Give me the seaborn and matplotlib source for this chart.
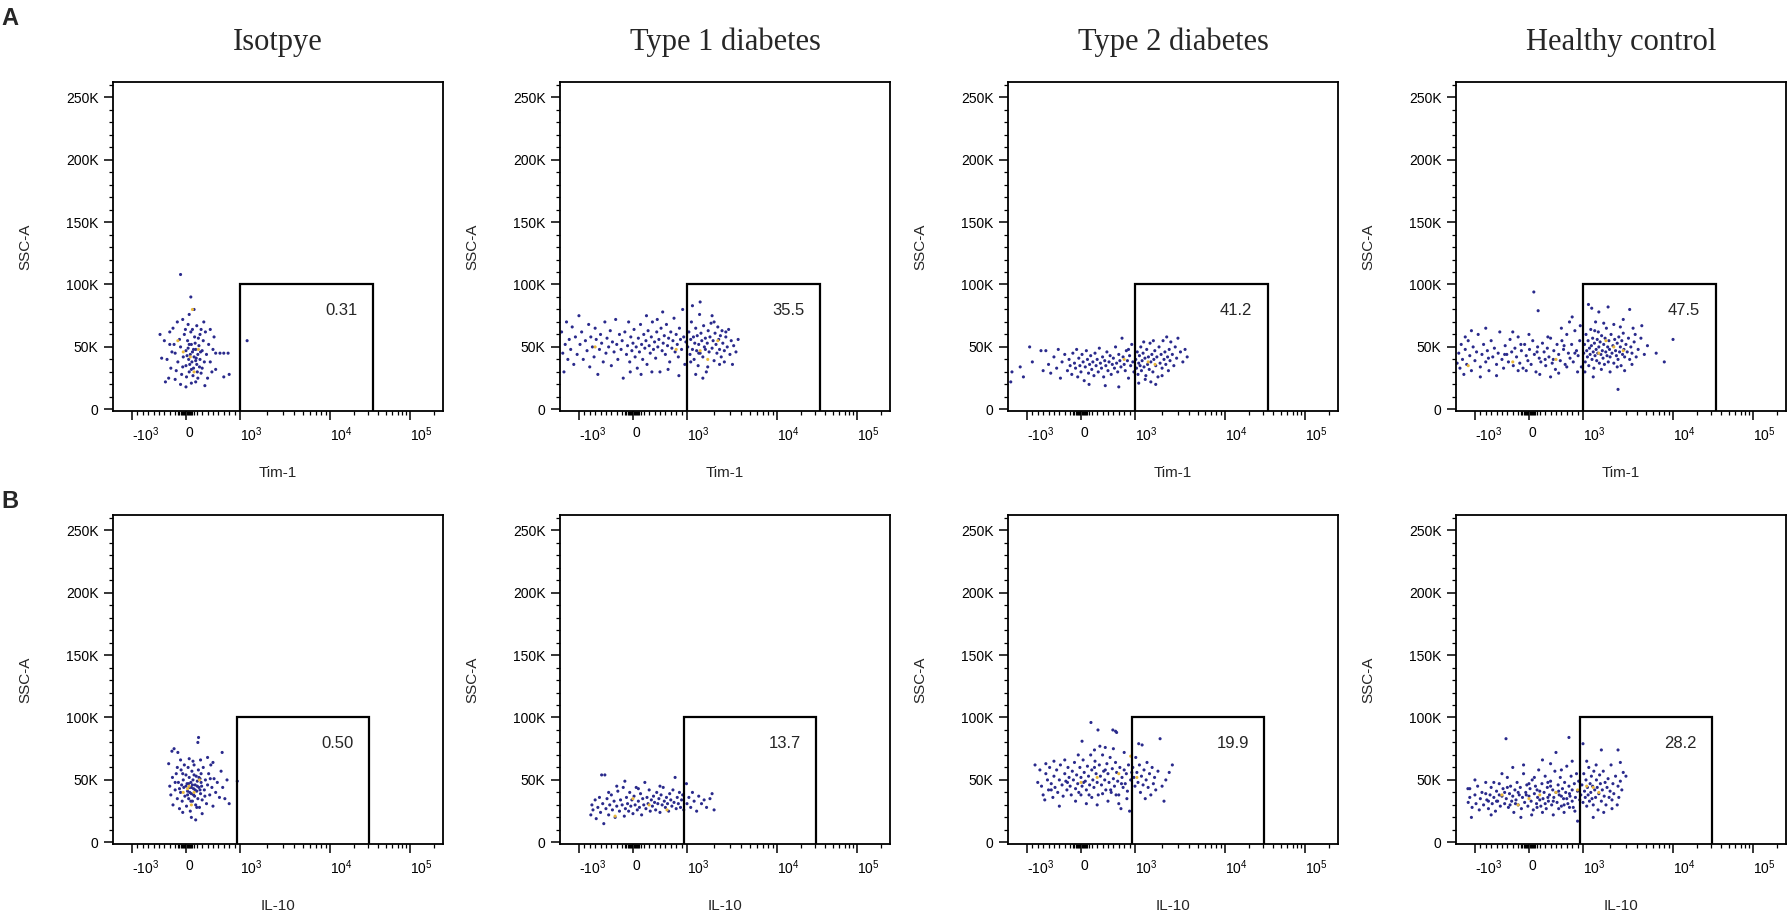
import numpy as np
import pandas as pd
import matplotlib
matplotlib.use('Agg')
import matplotlib.pyplot as plt
import seaborn as sns
from matplotlib.ticker import FixedLocator, NullFormatter

sns.set_theme(style='white')
plt.rcParams['font.family'] = ['Liberation Sans', 'DejaVu Sans']
plt.rcParams['mathtext.fontset'] = 'custom'
plt.rcParams['mathtext.rm'] = 'Liberation Sans'
plt.rcParams['mathtext.it'] = 'Liberation Sans:italic'
plt.rcParams['mathtext.bf'] = 'Liberation Sans:bold'

# ---- data (x = fluorescence, y = SSC-A in K) ----
titles = ['Isotpye', 'Type 1 diabetes', 'Type 2 diabetes', 'Healthy control']
row_markers = ['Tim-1', 'IL-10']
gate_pct_tim1 = ['0.31', '35.5', '41.2', '47.5']
gate_pct_il10 = ['0.50', '13.7', '19.9', '28.2']
gate_tim1 = (1000, 34000, 100)   # x from, x to, SSC top (K)
gate_il10 = (950, 31000, 100)

iso_tim1 = [(-200,45),(-150,38),(-100,50),(-50,42),(0,35),(0,47),(30,55),(50,40),(60,30),(80,44),(100,52),(110,38),
    (120,46),(140,33),(150,42),(160,58),(180,48),(200,36),(220,44),(240,51),(260,40),(280,29),(300,47),(320,55),
    (340,38),(-180,31),(-120,56),(-80,28),(-30,60),(10,26),(40,49),(70,36),(90,62),(130,27),(170,53),(190,41),
    (210,30),(230,57),(250,34),(270,46),(-220,52),(-60,34),(20,43),(60,52),(100,32),(140,48),(180,39),(220,25),
    (260,60),(300,33),(-350,40),(-300,52),(-280,33),(-260,46),(-320,25),(-400,55),(-450,41),(-480,60),(-380,22),
    (380,44),(420,52),(450,38),(480,30),(500,48),(520,58),(400,25),(360,62),(550,45),(630,45),(700,45),(780,45),
    (700,26),(-240,65),(-160,70),(-60,72),(40,68),(120,64),(200,67),(280,64),(-100,20),(0,18),(100,21),(180,22),
    (-200,24),(330,70),(60,76),(150,80),(90,90),(-100,108),(-10,64),(350,19),(-300,62),(450,64),(550,32),(800,28),
    (1200,55)]
iso_tim1_hot = [(120,80),(-50,46),(80,42),(230,48),(-150,55),(150,30)]

t1d_tim1 = [(-1600,62),(-1550,45),(-1500,30),(-1450,52),(-1400,70),(-1350,40),(-1300,56),(-1250,48),(-1200,66),
    (-1150,36),(-1100,58),(-1050,44),(-1000,75),(-980,52),(-950,62),(-920,40),(-880,55),(-850,47),(-820,68),(-800,34),
    (-780,58),(-750,50),(-720,42),(-700,65),(-680,56),(-650,28),(-620,48),(-600,60),(-580,53),(-550,38),(-520,70),
    (-500,45),(-480,57),(-450,50),(-420,63),(-400,35),(-380,54),(-350,46),(-320,72),(-300,52),(-280,40),(-250,60),
    (-220,48),(-200,55),(-180,25),(-150,62),(-120,44),(-100,51),(-80,70),(-60,38),(-40,58),(-20,47),(0,53),(20,64),
    (40,42),(60,50),(80,33),(100,57),(120,46),(140,68),(160,52),(180,40),(200,60),(220,49),(240,55),(260,36),(280,63),
    (300,51),(320,45),(340,58),(360,70),(380,48),(400,54),(420,41),(440,62),(460,50),(480,56),(500,30),(520,65),
    (540,47),(560,53),(580,59),(600,44),(620,68),(640,51),(660,57),(680,38),(700,62),(720,49),(740,55),(760,73),
    (780,46),(800,60),(820,52),(840,42),(860,65),(880,56),(900,48),(920,80),(940,58),(960,36),(980,54),(350,30),
    (150,28),(-50,30),(450,72),(650,32),(850,27),(250,75),(550,78),
    (1020,50),(1050,62),(1080,44),(1100,56),(1120,70),(1150,48),(1180,58),(1200,40),(1220,53),(1250,65),(1280,47),
    (1300,59),(1330,35),(1350,52),(1380,76),(1400,45),(1430,61),(1460,55),(1500,42),(1530,67),(1560,50),(1600,57),
    (1640,30),(1680,53),(1720,63),(1760,46),(1800,58),(1850,69),(1900,49),(1950,55),(2000,39),(2050,61),(2100,52),
    (2150,45),(2200,66),(2250,56),(2300,48),(2350,59),(2400,42),(2450,63),(2500,53),(2600,47),(2700,58),(2800,50),
    (2900,64),(3000,44),(3100,55),(3300,51),(3500,46),(3700,56),(1250,28),(1500,25),(1700,34),(2000,70),(2600,38),
    (1150,83),(1400,86),(3200,36),(1900,75),(2300,36),(1100,38),(1350,45),(1600,48),(2700,62)]
t1d_tim1_hot = [(1400,47),(800,48),(-700,50),(1700,40),(2200,55)]

t2d_tim1 = [(-1550,22),(-1500,30),(-1200,34),(-1100,26),(-950,50),(-900,38),(-740,47),(-700,31),(-650,47),(-600,36),
    (-560,29),(-500,42),(-450,33),(-420,48),(-380,25),(-350,38),(-300,44),(-250,31),(-220,40),(-200,35),(-170,28),
    (-150,45),(-120,37),(-100,33),(-80,48),(-60,26),(-40,41),(-20,35),(0,30),(20,44),(40,38),(60,23),(80,34),(100,47),
    (120,40),(140,29),(160,36),(180,43),(200,32),(220,38),(240,27),(260,45),(280,35),(300,40),(320,30),(340,49),
    (360,37),(380,33),(400,42),(420,26),(440,39),(460,35),(480,46),(500,31),(520,38),(540,43),(560,28),(580,36),
    (600,41),(620,33),(640,50),(660,37),(680,30),(700,44),(720,39),(740,34),(760,57),(780,42),(800,36),(820,31),
    (840,47),(860,39),(880,25),(900,43),(920,35),(940,52),(960,38),(980,30),(150,20),(450,19),(700,18),(880,48),
    (1020,40),(1040,33),(1060,46),(1080,28),(1100,37),(1120,43),(1140,35),(1160,50),(1180,31),(1200,39),(1230,45),
    (1260,34),(1290,41),(1320,27),(1350,48),(1380,36),(1410,42),(1440,32),(1470,53),(1500,38),(1540,44),(1580,30),
    (1620,40),(1660,47),(1700,35),(1750,42),(1800,26),(1850,50),(1900,37),(1950,44),(2000,33),(2050,55),(2100,40),
    (2150,46),(2200,36),(2250,58),(2300,42),(2350,31),(2400,48),(2450,39),(2500,54),(2600,44),(2700,35),(2800,50),
    (2900,41),(3000,57),(3200,46),(3400,38),(3600,48),(3800,42),(1100,21),(1300,24),(1500,22),(1700,20),(2000,27),
    (1250,54),(1600,55)]
t2d_tim1_hot = [(1400,38),(1670,36),(800,40)]

hc_tim1 = [(-1620,37),(-1550,45),(-1500,33),(-1450,52),(-1400,40),(-1350,28),(-1300,48),(-1250,36),(-1200,55),
    (-1150,43),(-1100,31),(-1050,50),(-1000,39),(-970,46),(-940,60),(-900,34),(-870,44),(-840,52),(-800,38),(-770,47),
    (-740,31),(-700,55),(-670,42),(-640,49),(-600,36),(-570,45),(-540,62),(-500,40),(-470,33),(-440,51),(-410,44),
    (-380,38),(-350,56),(-320,46),(-290,35),(-260,49),(-230,42),(-200,58),(-170,37),(-140,47),(-110,33),(-80,52),
    (-50,43),(-20,39),(10,48),(40,36),(70,55),(100,44),(130,30),(160,50),(190,41),(220,38),(250,53),(280,46),(310,35),
    (340,49),(370,42),(400,57),(430,37),(460,47),(490,32),(520,52),(550,44),(580,39),(610,55),(640,48),(670,36),
    (700,60),(730,45),(760,41),(790,52),(820,38),(850,63),(880,47),(910,43),(940,55),(970,34),(-1300,58),(-900,26),
    (-600,27),(-300,62),(0,60),(200,28),(400,26),(600,65),(750,70),(900,30),(-1100,63),(-750,41),(-450,44),(-150,52),
    (150,46),(450,40),(650,51),(850,45),(90,94),(170,79),(-50,31),(350,58),(550,29),(800,74),(950,67),(-800,65),
    (-200,31),(300,40),(700,34),
    (1020,45),(1040,52),(1060,38),(1080,60),(1100,47),(1120,42),(1140,55),(1160,35),(1180,49),(1200,44),(1220,64),
    (1240,51),(1260,40),(1280,57),(1300,46),(1320,33),(1340,53),(1360,43),(1380,70),(1400,48),(1420,39),(1440,56),
    (1460,45),(1480,62),(1500,50),(1520,37),(1550,54),(1580,44),(1610,59),(1640,47),(1670,41),(1700,52),(1730,36),
    (1760,57),(1790,46),(1820,65),(1850,43),(1880,50),(1910,38),(1940,55),(1970,48),(2000,42),(2050,60),(2100,45),
    (2150,51),(2200,37),(2250,56),(2300,47),(2350,43),(2400,53),(2450,40),(2500,58),(2550,46),(2600,50),(2650,35),
    (2700,55),(2750,44),(2800,61),(2850,48),(2900,42),(3000,52),(3100,46),(3200,57),(3300,40),(3400,50),(3500,45),
    (3700,54),(3900,42),(4100,48),(4400,57),(4800,44),(5200,51),(6500,45),(8000,38),(10000,56),(2450,16),
    (1150,84),(1250,81),(1500,78),(1900,82),(2200,68),(2800,72),(3300,80),(3600,65),(1050,30),(1300,26),(1600,32),
    (2000,30),(2400,34),(2900,31),(3500,36),(1700,69),(2600,66),(1350,63),(3800,60),(4500,67)]
hc_tim1_hot = [(1500,45),(2200,50),(2800,47),(-1200,35),(-300,38),(1800,55),(500,40)]

iso_il10 = [(-320,63),(-260,73),(-220,75),(-150,72),(-100,66),(-300,45),(-280,38),(-250,52),(-240,30),(-200,42),
    (-180,55),(-160,35),(-140,48),(-120,27),(-100,40),(-90,58),(-70,33),(-50,50),(-40,44),(-20,37),(0,54),(10,29),
    (20,47),(30,41),(40,60),(50,35),(60,52),(70,44),(80,25),(90,48),(100,39),(110,57),(120,33),(130,50),(140,43),
    (150,62),(160,37),(170,46),(180,30),(190,53),(200,41),(210,49),(220,35),(230,58),(240,44),(250,28),(260,51),
    (270,39),(280,55),(290,45),(300,34),(320,60),(340,42),(360,50),(380,31),(400,46),(420,55),(440,38),(460,62),
    (480,44),(500,29),(520,51),(550,40),(580,48),(620,36),(650,57),(680,44),(720,35),(760,50),(800,31),(670,72),
    (950,49),(233,84),(220,80),(60,67),(-60,24),(100,20),(180,18),(300,23),(-160,60),(400,68),(-30,62),(130,65),
    (270,66),(500,64),(-200,48),(-120,43),(-60,55),(30,38),(90,33),(150,54),(200,28),(260,42),(350,37),(450,51),
    (0,45),(70,40),(140,38),(210,45),(280,48),(-80,46),(120,46),(170,42),(240,52),(50,47),(100,44)]
iso_il10_hot = [(60,45),(150,40),(-50,40),(250,50),(100,30),(30,43)]

t1d_il10 = [(-780,22),(-760,30),(-740,26),(-700,34),(-680,19),(-650,28),(-620,36),(-600,24),(-580,54),(-560,31),
    (-540,15),(-520,54),(-500,27),(-480,35),(-450,22),(-430,30),(-400,38),(-380,26),(-350,33),(-330,20),(-300,29),
    (-280,41),(-250,25),(-230,34),(-200,30),(-180,44),(-160,21),(-150,49),(-140,27),(-120,36),(-100,31),(-80,25),
    (-60,40),(-40,29),(-20,34),(0,23),(20,37),(40,30),(60,44),(80,26),(100,33),(120,28),(140,39),(160,22),(180,35),
    (200,30),(220,48),(240,27),(260,36),(280,31),(300,42),(320,25),(340,34),(360,29),(380,37),(400,32),(420,26),
    (440,40),(460,31),(480,35),(500,24),(520,38),(540,30),(560,44),(580,33),(600,28),(620,36),(640,31),(660,25),
    (680,39),(700,34),(720,29),(740,42),(760,32),(780,52),(800,27),(820,36),(840,31),(860,40),(880,28),(900,34),
    (920,38),(940,26),(-300,45),(-450,40),(100,43),(500,45),
    (990,47),(1000,31),(1050,36),(1100,28),(1150,40),(1200,33),(1280,25),(1350,37),(1450,31),(1550,34),(1650,28),
    (1800,35),(1900,39),(2000,26)]
t1d_il10_hot = [(-330,21),(630,26),(0,35),(300,30)]

t2d_il10 = [(-850,62),(-800,48),(-760,58),(-730,45),(-700,38),(-670,34),(-650,55),(-620,50),(-600,42),(-580,60),
    (-550,47),(-520,36),(-500,53),(-480,44),(-450,58),(-430,40),(-400,50),(-380,62),(-350,46),(-330,37),(-300,55),
    (-280,49),(-260,42),(-240,60),(-220,52),(-200,45),(-180,38),(-160,57),(-140,50),(-120,64),(-100,43),(-80,54),
    (-60,47),(-40,40),(-20,60),(0,52),(20,81),(20,45),(40,66),(60,56),(80,49),(100,42),(120,61),(140,53),(160,46),
    (185,96),(180,70),(200,58),(220,50),(240,44),(260,65),(280,55),(300,48),(315,90),(320,38),(340,62),(360,53),
    (380,46),(400,70),(420,57),(440,50),(460,42),(480,63),(500,55),(520,48),(540,68),(560,40),(590,90),(580,59),
    (600,51),(620,45),(640,64),(660,56),(680,49),(700,38),(720,60),(740,27),(760,52),(780,44),(800,58),(820,47),
    (840,55),(860,41),(880,62),(900,25),(920,50),(940,56),(640,89),(660,88),(450,76),(250,74),(600,75),(800,72),
    (-300,66),(-500,65),(-650,63),(100,31),(300,30),(500,33),(700,31),(850,35),(-400,29),(-100,33),(200,36),(400,39),
    (650,38),(-50,70),(350,77),(0,38),(150,38),(550,42),(750,47),(450,58),(250,60),(-250,48),(-550,42),(50,48),
    (960,60),(980,52),(1000,45),(1020,68),(1050,56),(1080,48),(1100,79),(1120,62),(1150,40),(1180,53),(1200,78),
    (1230,46),(1260,58),(1300,35),(1330,50),(1360,64),(1400,44),(1450,55),(1500,38),(1550,60),(1600,47),(1650,52),
    (1700,42),(1800,57),(1900,83),(2000,45),(2100,33),(2200,50),(2400,56),(2600,62)]
t2d_il10_hot = [(700,55),(300,52),(0,48),(1050,52),(920,69)]

hc_il10 = [(-1210,43),(-1150,43),(-1100,20),(-1200,32),(-1150,36),(-1080,28),(-1000,38),(-980,31),(-950,45),
    (-920,26),(-900,35),(-870,40),(-840,30),(-800,48),(-780,34),(-750,27),(-720,38),(-700,44),(-680,31),(-650,36),
    (-620,25),(-600,41),(-580,33),(-550,47),(-530,29),(-500,37),(-480,43),(-450,31),(-425,83),(-420,35),(-400,52),
    (-380,28),(-360,39),(-340,45),(-320,33),(-300,37),(-280,24),(-260,42),(-240,34),(-220,48),(-200,30),(-180,38),
    (-160,44),(-140,27),(-120,36),(-100,55),(-80,32),(-60,40),(-40,46),(-20,29),(0,37),(20,43),(40,33),(60,50),
    (80,26),(100,39),(120,45),(140,31),(160,36),(180,58),(200,41),(220,29),(240,47),(260,35),(280,40),(300,53),
    (320,27),(340,44),(360,33),(380,38),(400,49),(420,30),(440,42),(460,36),(480,57),(500,72),(500,40),(520,32),
    (540,46),(560,38),(580,52),(600,29),(620,43),(640,35),(660,48),(680,40),(700,61),(720,31),(740,84),(740,45),
    (760,37),(780,53),(800,42),(820,28),(840,47),(860,36),(880,55),(900,17),(900,41),(920,49),(940,34),
    (-1000,50),(-700,22),(-500,55),(-300,60),(-150,20),(50,22),(250,24),(450,22),(650,24),(850,25),(-800,39),
    (-600,33),(-400,44),(-200,40),(0,47),(200,34),(400,45),(600,37),(800,33),(-50,38),(150,42),(350,36),(550,41),
    (750,39),(-250,31),(-550,38),(300,31),(700,35),(100,52),(400,63),(600,58),(-100,62),(250,66),(800,65),(-650,48),
    (650,30),(350,48),(150,28),(-350,30),(-450,40),(450,33),(550,27),(750,28),(-750,33),
    (960,38),(980,46),(1000,79),(1000,32),(1020,55),(1040,41),(1060,36),(1080,50),(1100,29),(1120,44),(1140,38),
    (1160,60),(1180,33),(1200,47),(1220,40),(1240,53),(1260,35),(1280,45),(1300,30),(1320,57),(1350,42),(1380,36),
    (1410,50),(1440,44),(1470,26),(1500,39),(1530,54),(1560,47),(1600,74),(1600,33),(1640,42),(1680,57),(1720,37),
    (1760,48),(1800,30),(1850,44),(1900,51),(1950,36),(2000,41),(2050,62),(2100,34),(2150,47),(2200,39),(2300,53),
    (2450,74),(2450,45),(2500,36),(2600,49),(2700,42),(2800,56),(3000,53),(2400,30),(1300,20),(1700,24),(2100,27),
    (1100,65),(1400,62),(2600,64)]
hc_il10_hot = [(0,35),(500,40),(900,42),(1100,45),(1500,40),(-500,38),(200,38),(1300,44),(-200,30)]

row_points = [[iso_tim1, t1d_tim1, t2d_tim1, hc_tim1], [iso_il10, t1d_il10, t2d_il10, hc_il10]]
row_hot = [[iso_tim1_hot, t1d_tim1_hot, t2d_tim1_hot, hc_tim1_hot],
           [iso_il10_hot, t1d_il10_hot, t2d_il10_hot, hc_il10_hot]]
row_pct = [gate_pct_tim1, gate_pct_il10]
row_gate = [gate_tim1, gate_il10]


# ---- biexponential-like x scale (FlowJo style) ----
U_ANCH = [-1.25, -1, 0, 1, 2, 3, 3.45]
P_ANCH = [-2.25, 19, 73, 127, 217, 297, 333]

def to_u(x):
    x = np.asarray(x, float)
    a = np.abs(x)
    return np.where(a <= 1000, x / 1000, np.sign(x) * (1 + np.log10(np.maximum(a, 1000) / 1000)))

def from_u(u):
    u = np.asarray(u, float)
    a = np.abs(u)
    return np.where(a <= 1, u * 1000, np.sign(u) * 1000 * 10 ** (np.maximum(a, 1) - 1))

def fwd(x):
    return np.interp(to_u(x), U_ANCH, P_ANCH)

def inv(p):
    return from_u(np.interp(p, P_ANCH, U_ANCH))


major_x = [-1000, 0, 1000, 10000, 100000]
major_x_labels = ['-$10^{3}$', '0', '$10^{3}$', '$10^{4}$', '$10^{5}$']
minor_x = (list(range(-900, -100, 100)) + [v for v in range(-140, 141, 20) if v != 0] + list(range(200, 1000, 100))
           + list(range(2000, 10000, 1000)) + list(range(20000, 100000, 10000)) + [200000])
major_y = [0, 50000, 100000, 150000, 200000, 250000]
major_y_labels = ['0', '50K', '100K', '150K', '200K', '250K']
minor_y = [v for v in range(0, 262144, 10000) if v % 50000 != 0]

navy = '#2a2a8c'
hot = '#e9b83a'

fig = plt.figure(figsize=(17.87, 9.19), dpi=100)
W, H = 1787, 919
lefts = [113, 560, 1008, 1456]
bottoms = [411, 844]

for r in range(2):
    x0, x1, gtop = row_gate[r]
    for c in range(4):
        ax = fig.add_axes([lefts[c] / W, (H - bottoms[r]) / H, 330 / W, 329 / H])
        ax.set_xscale('function', functions=(fwd, inv))
        pts = pd.DataFrame(row_points[r][c], columns=['x', 'y'])
        hp = pd.DataFrame(row_hot[r][c], columns=['x', 'y'])
        sns.scatterplot(x=pts['x'], y=pts['y'] * 1000, ax=ax, s=5, marker='o', color=navy,
                        linewidth=0, edgecolor='none')
        sns.scatterplot(x=hp['x'], y=hp['y'] * 1000, ax=ax, s=5, marker='o', color=hot,
                        linewidth=0, edgecolor='none')
        ylo = -1300
        ax.plot([x0, x0, x1, x1], [ylo, gtop * 1000, gtop * 1000, ylo], color='black', lw=1.6,
                solid_joinstyle='miter')
        ax.annotate(row_pct[r][c], xy=(x1, gtop * 1000), xytext=(-11, -13), textcoords='offset points',
                    ha='right', va='top', fontsize=12)
        ax.set_xlim(-1670, 258000)
        ax.set_ylim(ylo, 262144)

        ax.xaxis.set_major_locator(FixedLocator(major_x))
        ax.set_xticklabels(major_x_labels)
        ax.xaxis.set_minor_locator(FixedLocator(minor_x))
        ax.yaxis.set_major_locator(FixedLocator(major_y))
        ax.set_yticklabels(major_y_labels)
        ax.yaxis.set_minor_locator(FixedLocator(minor_y))
        ax.xaxis.set_minor_formatter(NullFormatter())
        for lbl in ax.get_xticklabels():
            lbl.set_horizontalalignment('left')

        ax.tick_params(which='major', direction='out', length=6.5, width=1.1, labelsize=10, pad=4,
                       bottom=True, left=True, top=False, right=False, colors='black')
        ax.tick_params(which='minor', direction='out', length=3, width=0.9,
                       bottom=True, left=True, top=False, right=False, colors='black')
        for sp in ax.spines.values():
            sp.set_color('black')
            sp.set_linewidth(1.3)

        ax.set_ylabel('SSC-A', fontsize=11)
        ax.yaxis.set_label_coords(-0.243, 0.5)
        ax.set_xlabel(row_markers[r], fontsize=11)
        ax.xaxis.set_label_coords(0.5, -0.167)
        if r == 0:
            ax.set_title(titles[c], fontsize=22, family='Liberation Serif', pad=23)

fig.text(0.001, 1 - 25 / H, 'A', fontsize=17, fontweight='bold', va='baseline')
fig.text(0.001, 1 - 508 / H, 'B', fontsize=17, fontweight='bold', va='baseline')

fig.savefig('out.png', dpi=100, facecolor='white')
